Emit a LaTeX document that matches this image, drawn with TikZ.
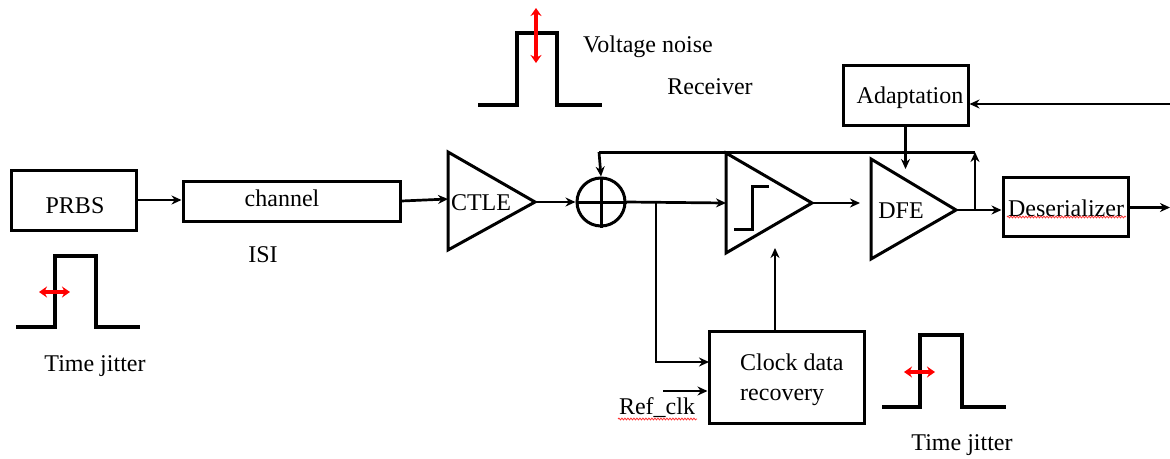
\documentclass[tikz,border=0pt]{standalone}
\usepackage{fontspec}
\setmainfont{Liberation Serif}
\newfontfamily\serf{Liberation Serif}
\usetikzlibrary{arrows.meta,decorations.pathmorphing}
\begin{document}
\tikzset{
  blk/.style={draw,line width=3pt,inner sep=0pt},
  wire/.style={line width=3pt},
  arr/.style={line width=2.7pt,-{Stealth[length=10pt,width=9pt]}},
  wave/.style={line width=3.2pt},
  jit/.style={red,line width=3.2pt,{Stealth[length=8pt,width=11pt]}-{Stealth[length=8pt,width=11pt]}},
  lbl/.style={font=\serf\fontsize{24}{30}\selectfont,inner sep=0pt},
  spell/.style={red!80,line width=0.8pt,decorate,decoration={snake,amplitude=0.9pt,segment length=3pt}}
}
\begin{tikzpicture}[x=1pt,y=-1pt]
\useasboundingbox (0,0) rectangle (1170,458);
% blocks
\node[blk,minimum width=125pt,minimum height=60pt] (prbs) at (73.5,200) {};
\node[lbl] (prbst) at (75,206) {PRBS};
\node[blk,minimum width=217pt,minimum height=40pt] (chan) at (291.5,201) {};
\node[lbl] (chant) at (282,198) {channel};
\node[lbl] (isi) at (263,255) {ISI};
\node[blk,minimum width=125pt,minimum height=60pt] (adapt) at (905.5,95) {};
\node[lbl] (adaptt) at (910,98) {Adaptation};
\node[blk,minimum width=125pt,minimum height=59pt] (des) at (1065.5,206.5) {};
\node[lbl] (dest) at (1066,208) {Deserializer};
\draw[spell] (1007,217) -- (1126,217);
\node[blk,minimum width=155pt,minimum height=92pt] (cdr) at (786.5,377) {};
\node[lbl,align=left,anchor=west] (cdrt) at (740,380) {Clock data\\recovery};
\node[lbl] (ref) at (657,408) {Ref\_clk};
\draw[spell] (618,419) -- (697,419);
% CTLE triangle
\draw[wire] (448,152) -- (535,202) -- (448,250) -- cycle;
\coordinate (ctlein) at (448,199);
\coordinate (ctleout) at (535,202);
\node[lbl] (ctlet) at (481,203) {CTLE};
% adder
\node[circle,draw,line width=3pt,minimum size=48pt,inner sep=0pt] (add) at (601,202) {};
\draw[wire] (add.north) -- (add.south) (add.west) -- (add.east);
% comparator
\draw[wire] (726,153) -- (812,203) -- (726,253) -- cycle;
\coordinate (cmpin) at (726,203);
\coordinate (cmpout) at (812,203);
\draw[wire] (734,229) -- (752,229) -- (752,186) -- (769,186);
% DFE
\draw[wire] (871,159) -- (956,210) -- (871,259) -- cycle;
\coordinate (dfein) at (860,203);
\coordinate (dfeout) at (956,210);
\node[lbl] (dfet) at (901,211) {DFE};
% connectors
\draw[arr] (prbs.east) -- (prbs.east -| chan.west);
\draw[arr] (chan.east) -- (ctlein);
\draw[arr] (ctleout) -- (add.west);
\draw[arr] (add.east) -- (cmpin);
\coordinate (br) at (656,203);
\coordinate (cdrin) at (709,362);
\draw[arr] (br) |- (cdrin);
\coordinate (refs) at (663,391);
\draw[arr] (refs) -- (refs -| cdr.west);
\coordinate (cdrup) at (775,331);
\coordinate (cmpclk) at (775,248);
\draw[arr] (cdrup) -- (cmpclk);
\draw[arr] (cmpout) -- (dfein);
\draw[arr] (dfeout) -- (dfeout -| des.west);
\coordinate (riser) at (975,210);
\coordinate (fbR) at (975,152);
\coordinate (fbL) at (599,152);
\draw[arr] (riser) -- (fbR);
\draw[wire] (fbR) -- (fbL);
\draw[arr] (fbL) -- (add.north);
\coordinate (dfeadj) at (905.5,169);
\draw[arr] (adapt.south) -- (dfeadj);
\coordinate (adin) at (1170,104);
\draw[arr] (adin) -- (adin -| adapt.east);
\coordinate (desout) at (1170,207.5);
\draw[arr] (des.east |- desout) -- (desout);
% waveforms
\draw[wave] (16,327) -- (55,327) -- (55,256) -- (96,256) -- (96,327) -- (140,327);
\draw[jit] (39,292) -- (70,292);
\node[lbl] (tj1) at (95,366) {Time jitter};
\draw[wave] (478,105) -- (517,105) -- (517,33) -- (557,33) -- (557,105) -- (602,105);
\draw[jit] (536,8) -- (536,63);
\node[lbl] (vn) at (648,47) {Voltage noise};
\node[lbl] (rx) at (710,87) {Receiver};
\draw[wave] (882,407) -- (920,407) -- (920,335) -- (962,335) -- (962,407) -- (1006,407);
\draw[jit] (904,372) -- (935,372);
\node[lbl] (tj2) at (962,445) {Time jitter};
\end{tikzpicture}
\end{document}
